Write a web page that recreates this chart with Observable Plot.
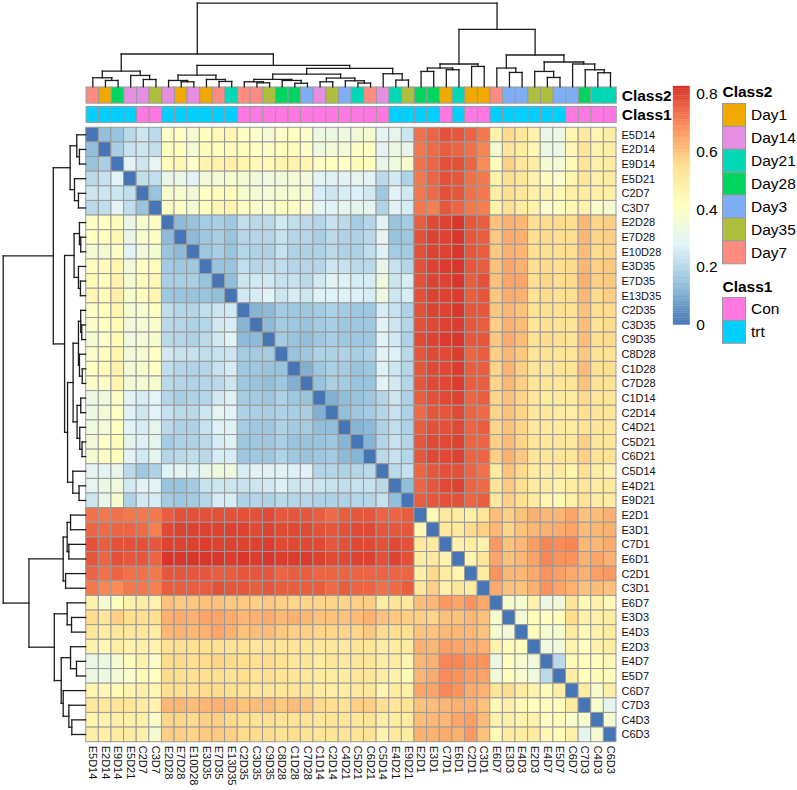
<!DOCTYPE html>
<html>
<head>
<meta charset="utf-8">
<script src="https://cdn.jsdelivr.net/npm/d3@7"></script>
<script src="https://cdn.jsdelivr.net/npm/@observablehq/plot@0.6"></script>
<style>
html,body{margin:0;padding:0;background:#fff}
#chart{position:relative;width:797px;height:790px;overflow:hidden;font-family:"Liberation Sans",Arial,sans-serif;color:#000}
#chart svg{position:absolute;display:block;background:transparent;overflow:visible}
#chart .ttl{position:absolute;font-weight:bold;font-size:15.5px;line-height:18px}
</style>
</head>
<body>
<div id="chart"></div>
<script>
const samples = ["E5D14","E2D14","E9D14","E5D21","C2D7","C3D7","E2D28","E7D28","E10D28","E3D35","E7D35","E13D35","C2D35","C3D35","C9D35","C8D28","C1D28","C7D28","C1D14","C2D14","C4D21","C5D21","C6D21","C5D14","E4D21","E9D21","E2D1","E3D1","C7D1","E6D1","C2D1","C3D1","E6D7","E3D3","E4D3","E2D3","E4D7","E5D7","C6D7","C7D3","C4D3","C6D3"];

const class2Annot = ["Day7","Day1","Day28","Day14","Day14","Day35","Day14","Day1","Day14","Day1","Day7","Day21","Day7","Day7","Day35","Day28","Day28","Day3","Day14","Day35","Day3","Day21","Day7","Day14","Day21","Day35","Day28","Day28","Day1","Day21","Day1","Day1","Day7","Day3","Day3","Day35","Day35","Day3","Day3","Day28","Day21","Day21"];
const class1Annot = ["trt","trt","trt","trt","Con","Con","trt","trt","trt","trt","trt","trt","Con","Con","Con","Con","Con","Con","Con","Con","Con","Con","Con","Con","trt","trt","trt","trt","Con","trt","Con","Con","trt","trt","trt","trt","trt","trt","Con","Con","Con","Con"];

const class2Levels = ["Day1","Day14","Day21","Day28","Day3","Day35","Day7"];
const class2Colors = ["#EFA900","#E58EE2","#00D8B6","#00D55F","#7FAEF4","#AEBF3E","#FF8B80"];
const class1Levels = ["Con","trt"];
const class1Colors = ["#FF78E2","#00CFFF"];

const rampStops = [0,0.1378,0.2757,0.4135,0.5513,0.6892,0.827];
const rampColors = ["#4575B4","#91BFDB","#E0F3F8","#FFFFBF","#FEE090","#FC8D59","#D73027"];
const barTicks = [0,0.2,0.4,0.6,0.8];

// Upper triangle of the distance matrix, in hundredths, row by row (cells right of the diagonal)
const upper = [
[14,15,21,24,21, 40,41,37,42,44,45, 40,39,37,39,41,39,33,33,34, 35,37,29,30,24, 73,75,78,77,75,72, 47,56,52,47,32,33,46,51,46,49],
[18,23,24,22, 41,42,37,43,42,43, 42,41,40,42,43,40,34,36,36, 40,41,29,33,31, 72,74,76,75,73,70, 37,53,50,45,33,33,45,52,47,48],
[28,24,29, 43,45,40,46,47,48, 46,44,44,46,47,46,40,41,41, 43,42,31,34,38, 73,75,78,78,75,69, 42,58,52,49,37,36,44,53,48,50],
[22,22, 32,32,28,35,37,38, 37,35,34,35,36,36,29,27,28, 30,28,21,25,19, 72,75,78,77,73,72, 47,55,52,47,43,39,46,52,48,50],
[15, 38,38,35,41,43,42, 38,37,36,37,38,37,26,24,26, 27,25,16,28,25, 72,74,78,77,73,72, 49,55,52,48,47,44,48,50,48,48],
[40,40,37,42,45,46, 41,39,38,41,41,38,29,28,30, 30,30,19,28,26, 72,71,77,75,72,71, 47,55,50,47,39,41,45,47,39,37],
[13,15,17,18,16, 22,21,21,25,22,21,20,23,21, 17,20,28,15,17, 76,79,80,82,77,76, 60,63,62,55,56,56,55,62,57,58],
[13,16,18,15, 20,20,20,23,20,20,18,21,19, 19,21,29,15,16, 78,80,80,82,77,76, 59,64,63,55,56,55,55,62,57,58],
[16,18,15, 20,19,19,23,19,19,19,21,19, 19,22,27,17,17, 78,80,80,82,77,76, 59,63,62,55,55,55,55,61,56,57],
[15,15, 22,20,21,22,20,20,20,24,23, 21,21,31,23,20, 78,80,81,82,77,76, 60,65,63,55,56,55,56,62,58,59],
[14, 24,25,25,23,23,21,25,29,27, 26,26,34,24,26, 78,80,80,82,76,78, 60,65,65,55,57,55,56,63,58,59],
[25,26,28,24,26,24,27,28,27, 27,26,34,24,26, 78,80,80,81,76,77, 59,64,63,54,56,54,55,62,56,58],
[12,13,17,16,16,17,19,17, 16,16,26,23,19, 78,80,80,82,77,77, 59,62,60,54,55,55,54,60,55,56],
[13,17,16,15,17,18,16, 16,16,28,24,20, 78,79,80,81,77,76, 58,63,61,53,55,54,53,61,54,56],
[17,15,14,16,18,16, 16,16,28,25,19, 79,80,81,82,77,77, 59,64,61,54,56,55,53,61,55,56],
[15,16,19,19,19, 18,19,28,27,21, 77,79,79,81,75,76, 58,62,59,53,54,53,52,59,54,54],
[11,16,18,17, 15,16,27,24,20, 77,79,79,81,76,76, 57,63,58,53,52,53,53,61,54,55],
[15,18,17, 15,15,28,25,20, 77,79,79,81,76,76, 57,62,58,53,53,52,53,60,54,54],
[11,14, 15,16,20,24,19, 76,78,79,80,75,76, 57,60,57,52,50,50,50,56,52,53],
[14, 16,17,20,23,19, 74,77,77,79,75,74, 57,60,57,52,52,50,49,55,53,53],
[12,13,19,22,19, 76,78,78,79,75,76, 57,60,57,51,51,50,50,54,53,53],
[12,20,23,20, 77,79,79,80,75,75, 58,61,57,53,52,52,51,58,52,53],
[21,23,20, 77,79,79,80,75,75, 58,63,59,53,53,52,52,58,54,54],
[21,23, 75,77,78,78,75,73, 50,60,56,50,49,50,46,55,49,47],
[14, 75,77,79,80,75,74, 53,59,55,50,50,47,50,53,50,51],
[76,77,78,78,75,76, 51,58,55,50,46,44,48,54,50,50],
[44,51,50,48,52, 61,58,60,63,62,62,65,60,61,63],
[51,51,56,58, 62,57,60,62,63,64,65,61,62,63],
[47,50,47, 67,60,62,66,70,69,70,62,62,64],
[46,52, 65,60,62,65,70,68,68,63,65,63],
[50, 68,62,62,64,68,66,64,63,66,67],
[64,60,60,63,68,65,63,60,61,60],
[38,38,47,33,35,53,44,47,44],
[35,43,42,42,56,48,48,50],
[43,38,38,50,44,47,50],
[34,34,47,42,47,50],
[21,44,43,42,45],
[49,42,43,43],
[50,38,48],
[38,30],
[37]
];

// Shared clustering tree for rows and columns: [height, left, right]; integers are sample positions
const tree = [83.3,
  [32.7,
    [15.7, [9,0,[6.3,1,2]], [11.3,3,[7.3,4,5]]],
    [21.3,
      [11.7, [6.3,6,[5,7,8]], [7.3,9,[5.3,10,11]]],
      [18.3,
        [12.7,
          [7.3, [5,12,[4,13,14]], [6.3,15,[3.5,16,17]]],
          [8.7, [5,18,19], [6,20,[3.7,21,22]]]
        ],
        [13,23,[6.7,24,25]]
      ]
    ]
  ],
  [57.3,
    [22.7, [18.7,[15.3,26,27],[17,28,29]], [20.3,30,31]],
    [31.7,
      [18.7,32,[14.3,33,34]],
      [24.7,[15.3,35,[9.3,36,37]],[22.7,38,[17,39,[14,40,41]]]]
    ]
  ]
];

const FONT = '"Liberation Sans",Arial,sans-serif';
const chart = document.getElementById("chart");
const BORDER = "#9a9a9a";

function place(svg, left, top) {
  svg.style.left = left + "px";
  svg.style.top = top + "px";
  chart.appendChild(svg);
}
function title(text, left, top) {
  const d = document.createElement("div");
  d.className = "ttl"; d.textContent = text;
  d.style.left = left + "px"; d.style.top = top + "px";
  chart.appendChild(d);
}

// ---- matrix
const cells = [];
samples.forEach((s, i) => {
  cells.push({row: s, col: s, v: 0});
  (upper[i] || []).forEach((v, k) => {
    const j = i + 1 + k;
    cells.push({row: s, col: samples[j], v: v / 100});
    cells.push({row: samples[j], col: s, v: v / 100});
  });
});

const L = 85.7, R = 616, T = 127.3, B = 741.7;

const rampScale = {type: "linear", domain: rampStops, range: rampColors, interpolate: "rgb", clamp: true};

place(Plot.plot({
  width: 797, height: 790,
  marginLeft: L, marginRight: 797 - R, marginTop: T, marginBottom: 790 - B,
  style: {fontFamily: FONT, background: "transparent", color: "#111"},
  x: {type: "band", domain: samples, padding: 0, round: false, axis: null},
  y: {type: "band", domain: samples, padding: 0, round: false, axis: null},
  color: rampScale,
  marks: [
    Plot.cell(cells, {x: "col", y: "row", fill: "v", stroke: BORDER, strokeWidth: 1}),
    Plot.axisY(samples, {anchor: "right", tickSize: 0, tickPadding: 5, fontSize: 11, label: null}),
    Plot.axisX(samples, {anchor: "bottom", tickSize: 0, tickPadding: 3.5, tickRotate: 90, fontSize: 11, label: null})
  ]
}), 0, 0);

// ---- annotation strips
const annot = samples.flatMap((s, i) => [
  {col: s, strip: "Class2", value: class2Annot[i]},
  {col: s, strip: "Class1", value: class1Annot[i]}
]);
const allLevels = class2Levels.concat(class1Levels);
const allColors = class2Colors.concat(class1Colors);
const catScale = {type: "ordinal", domain: allLevels, range: allColors};

const stripTop = 87.3, stripBottom = 122.9;
place(Plot.plot({
  width: 797 - L, height: stripBottom - stripTop + 2,
  marginLeft: 0, marginRight: 797 - R, marginTop: 1, marginBottom: 1,
  style: {fontFamily: FONT, background: "transparent", color: "#000"},
  x: {type: "band", domain: samples, padding: 0, round: false, axis: null},
  y: {type: "band", domain: ["Class2","Class1"], paddingInner: 0.17, paddingOuter: 0, round: false, axis: null},
  color: catScale,
  marks: [
    Plot.cell(annot, {x: "col", y: "strip", fill: "value", stroke: BORDER, strokeWidth: 1}),
    Plot.axisY(["Class2","Class1"], {anchor: "right", tickSize: 0, tickPadding: 5, fontSize: 15.5, fontWeight: "bold", label: null})
  ]
}), L, stripTop - 1);

// ---- dendrograms (same tree, drawn along two sides)
function walk(node, out) {
  if (typeof node === "number") return {pos: node + 0.5, h: 0};
  const [h, a, b] = node;
  const A = walk(a, out), B2 = walk(b, out);
  out.push({p1: A.pos, p2: A.pos, h1: A.h, h2: h});
  out.push({p1: B2.pos, p2: B2.pos, h1: B2.h, h2: h});
  out.push({p1: A.pos, p2: B2.pos, h1: h, h2: h});
  return {pos: (A.pos + B2.pos) / 2, h};
}
const branches = [];
walk(tree, branches);
const rootH = tree[0];
const branchStyle = {stroke: "#1c1c1c", strokeWidth: 1.3, strokeLinecap: "square"};

place(Plot.plot({
  width: R - L, height: 86.3, margin: 0, marginTop: 2.7,
  style: {background: "transparent"},
  x: {type: "linear", domain: [0, 42], axis: null},
  y: {type: "linear", domain: [0, rootH], axis: null},
  marks: [Plot.link(branches, {x1: "p1", x2: "p2", y1: "h1", y2: "h2", ...branchStyle})]
}), L, 0);

place(Plot.plot({
  width: 85.2, height: B - T, margin: 0, marginLeft: 2.7,
  style: {background: "transparent"},
  x: {type: "linear", domain: [rootH, 0], axis: null},
  y: {type: "linear", domain: [42, 0], axis: null},
  marks: [Plot.link(branches, {y1: "p1", y2: "p2", x1: "h1", x2: "h2", ...branchStyle})]
}), 0, T);

// ---- colour bar
const barMax = rampStops[rampStops.length - 1];
const barLevels = d3.range(100).map(i => ({lo: barMax * i / 100, hi: barMax * (i + 1) / 100}));
place(Plot.plot({
  width: 60, height: 324.3 - 85.7, margin: 0, marginRight: 43.3,
  style: {fontFamily: FONT, background: "transparent", color: "#000"},
  x: {type: "linear", domain: [0, 1], axis: null},
  y: {type: "linear", domain: [0, barMax], axis: null},
  color: rampScale,
  marks: [
    Plot.rect(barLevels, {x1: 0, x2: 1, y1: "lo", y2: "hi", fill: d => (d.lo + d.hi) / 2, stroke: d => (d.lo + d.hi) / 2, strokeWidth: 0.3}),
    Plot.axisY(barTicks, {anchor: "right", tickSize: 0, tickPadding: 6, fontSize: 15.5, label: null, tickFormat: d => d === 0 ? "0" : d3.format(".1f")(d)})
  ]
}), 673.3, 85.7);

// ---- legends
function legend(levels, colors, left, top, rowH) {
  place(Plot.plot({
    width: 76, height: levels.length * rowH + 1, margin: 0, marginTop: 0.5, marginBottom: 0.5, marginLeft: 0.5, marginRight: 76 - 23.5,
    style: {fontFamily: FONT, background: "transparent", color: "#000"},
    x: {type: "band", domain: ["swatch"], padding: 0, round: false, axis: null},
    y: {type: "band", domain: levels, padding: 0, round: false, axis: null},
    color: {type: "ordinal", domain: levels, range: colors},
    marks: [
      Plot.cell(levels, {x: () => "swatch", y: d => d, fill: d => d, stroke: BORDER, strokeWidth: 1}),
      Plot.axisY(levels, {anchor: "right", tickSize: 0, tickPadding: 5, fontSize: 15.5, label: null})
    ]
  }), left, top);
}
title("Class2", 722.5, 83);
legend(class2Levels, class2Colors, 721.7, 102.7, 22.9);
title("Class1", 722.5, 278);
legend(class1Levels, class1Colors, 721.7, 297.4, 22.9);
</script>
</body>
</html>
